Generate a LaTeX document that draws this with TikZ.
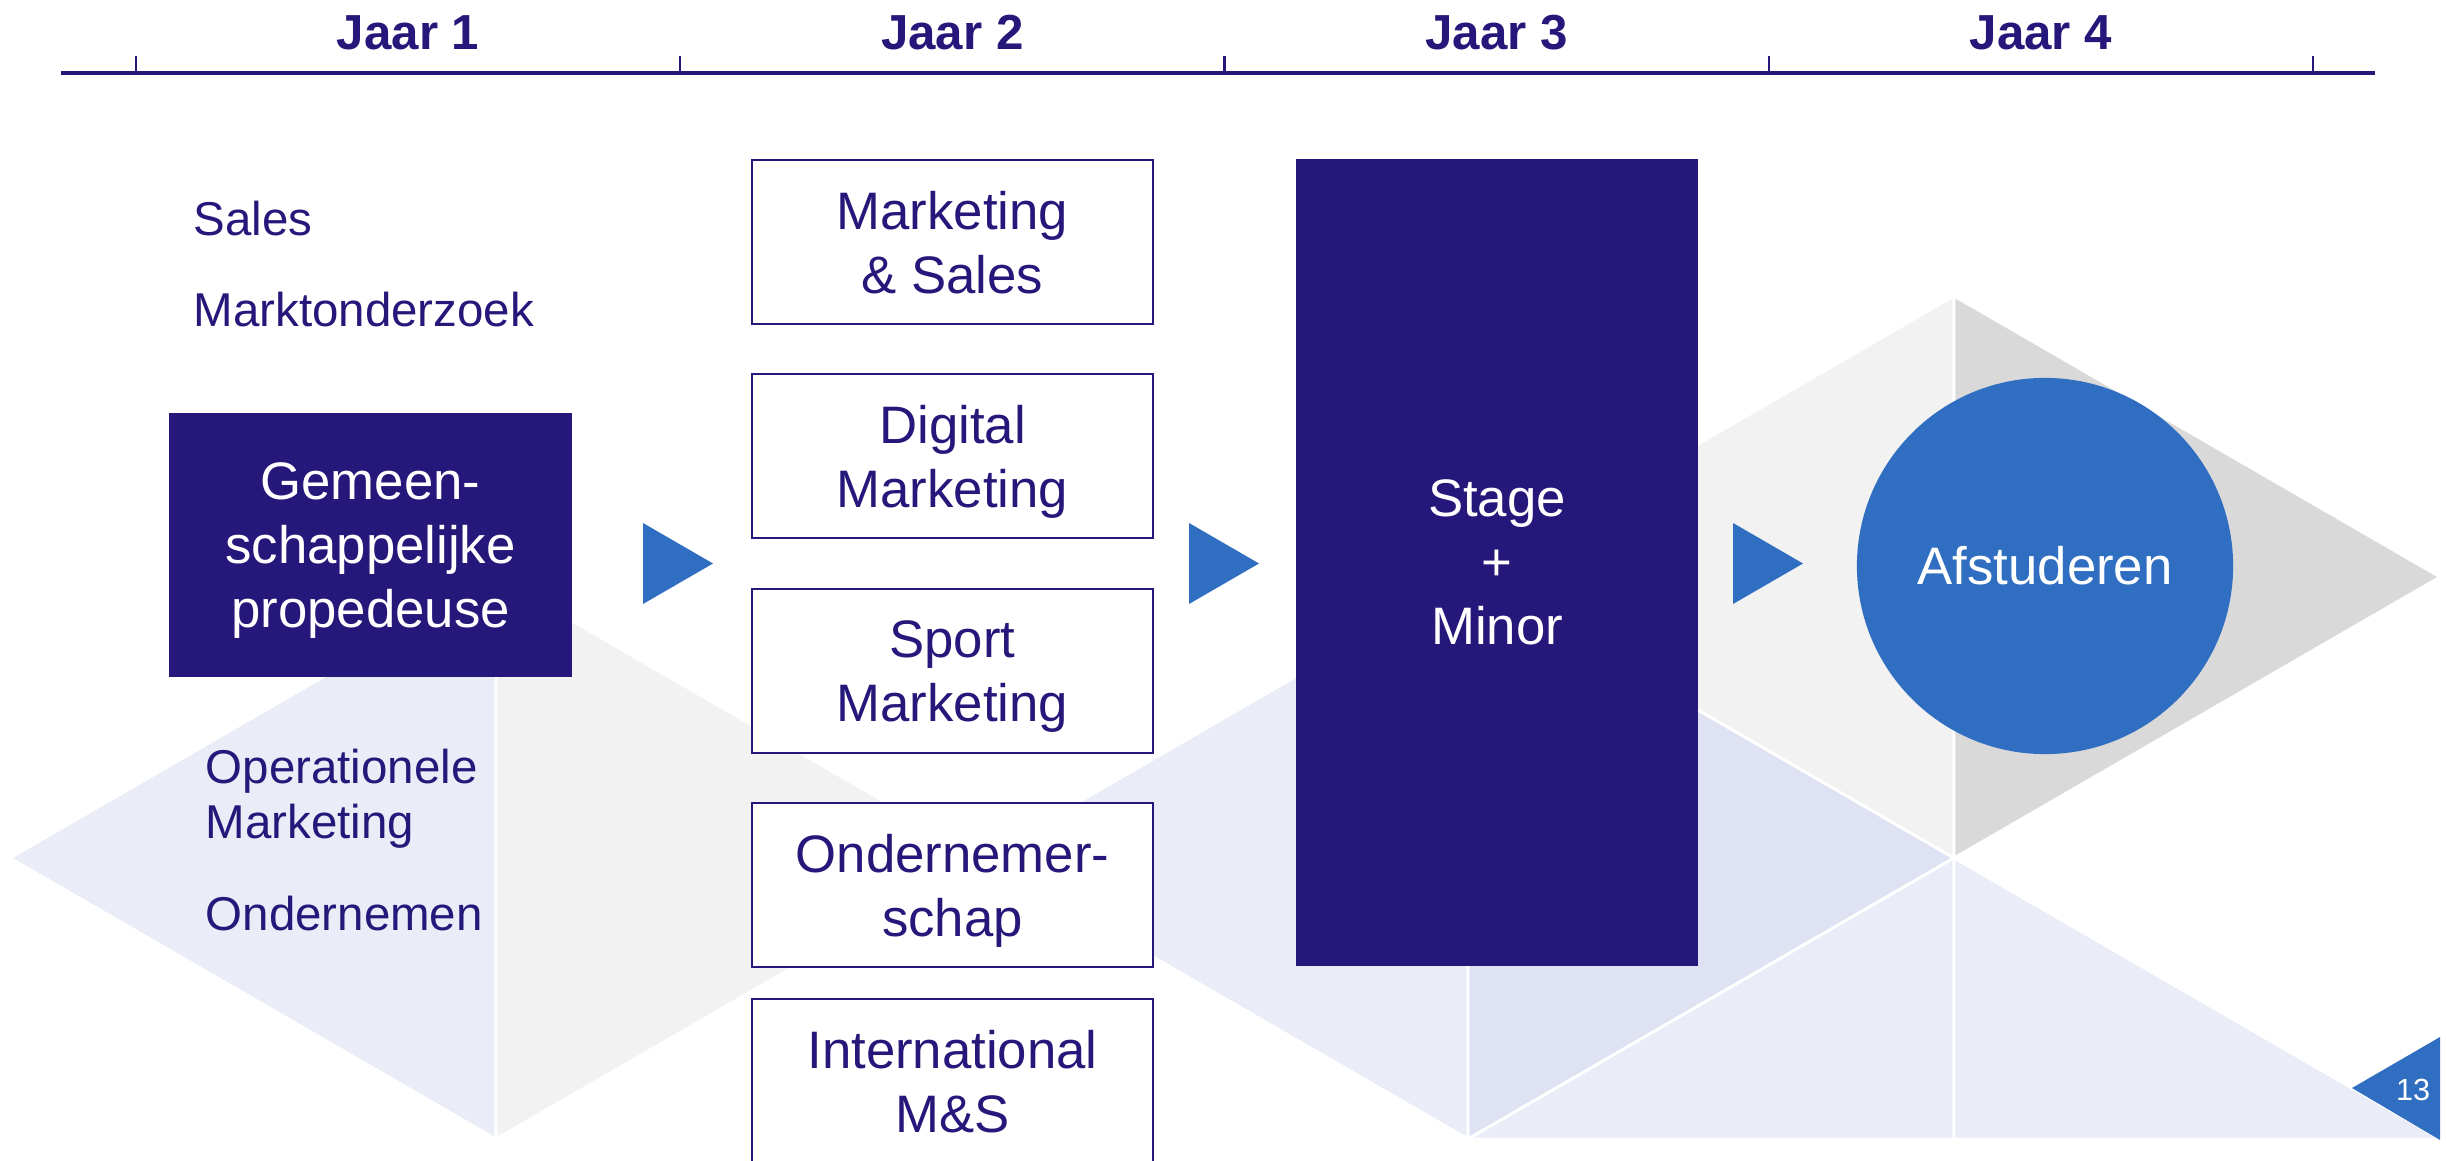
\documentclass[tikz,border=0pt]{standalone}
\usepackage{fontspec}
\setmainfont{Liberation Sans}
\usepackage{tikz}
\usetikzlibrary{shapes.geometric}
\definecolor{navy}{RGB}{37,24,122}
\definecolor{hblauw}{RGB}{48,110,193}
\definecolor{lichtgrijs}{RGB}{242,242,242}
\definecolor{grijs}{RGB}{217,217,217}
\definecolor{lavendel}{RGB}{234,236,247}
\definecolor{lavendeldonker}{RGB}{223,226,242}

\begin{document}
\begin{tikzpicture}[x=0.01cm, y=-0.01cm,
        vlak/.style={draw=white, line width=0.8pt},
        jaar/.style={anchor=base, inner sep=0pt, text=navy, font=\bfseries\fontsize{14}{17}\selectfont},
        los/.style={anchor=base west, inner sep=0pt, text=navy, font=\fontsize{13.5}{15.6}\selectfont},
        vak/.style={draw=navy, line width=0.7pt, fill=white, minimum width=4.01cm, minimum height=1.64cm,
            inner sep=0pt, text depth=0pt, align=center, text=navy, font=\fontsize{15}{18.2}\selectfont},
        blok/.style={fill=navy, inner sep=0pt, text depth=0pt, align=center, text=white, font=\fontsize{15}{18.2}\selectfont}
    ]
    \useasboundingbox (0,0) rectangle (2446,1161);
    \clip (0,0) rectangle (2446,1161);

    \filldraw[vlak, fill=lavendel] (10,858) -- (496,577) -- (496,1139) -- cycle;
    \filldraw[vlak, fill=lichtgrijs] (496,577) -- (982,858) -- (496,1139) -- cycle;
    \filldraw[vlak, fill=lavendel] (982,858) -- (1468,577) -- (1468,1139) -- cycle;
    \filldraw[vlak, fill=lavendeldonker] (1468,577) -- (1954,858) -- (1468,1139) -- cycle;
    \filldraw[vlak, fill=lichtgrijs] (1468,577) -- (1954,296) -- (1954,858) -- cycle;
    \filldraw[vlak, fill=grijs] (1954,296) -- (2440,577) -- (1954,858) -- cycle;
    \filldraw[vlak, fill=lavendel] (1468,1139) -- (1954,858) -- (1954,1139) -- cycle;
    \filldraw[vlak, fill=lavendel] (1954,858) -- (2440,1139) -- (1954,1139) -- cycle;

    \draw[navy, line width=1pt] (61,73) -- (2375,73);
    \foreach \x in {0,...,4}
        \draw[navy, line width=0.6pt] ({136+544.25*\x},73) -- ++(0,-17);
    \foreach \i in {1,...,4}
        \node[jaar] (jaar\i) at ({136+544.25*(\i-0.5)},50) {Jaar \i};

    \node[los] (sales) at (193,236) {Sales};
    \node[los] (markt) at (193,327) {Marktonderzoek};
    \node[los] (opera) at (205,783) {Operationele};
    \node[los] (opmark) at (205,838) {Marketing};
    \node[los] (onder) at (205,930) {Ondernemen};

    \node[blok, minimum width=4.03cm, minimum height=2.64cm] (prop) at (370.5,545) {Gemeen-\\schappelijke\\propedeuse};

    \node[vak] (ms) at (952.5,242) {Marketing\\\& Sales};
    \node[vak] (dm) at (952.5,456) {Digital\\Marketing};
    \node[vak] (sm) at (952.5,671) {Sport\\Marketing};
    \node[vak] (os) at (952.5,885) {Ondernemer-\\schap};
    \node[vak] (ims) at (952.5,1081) {International\\M\&S};

    \node[blok, minimum width=4.02cm, minimum height=8.07cm] (stage) at (1497,562.5) {Stage\\+\\Minor};

    \node[circle, fill=hblauw, minimum size=3.76cm, inner sep=0pt, text=white,
        font=\fontsize{15}{18.2}\selectfont] (afst) at (2045,566) {Afstuderen};

    \foreach \x in {643,1189,1733}
        \fill[hblauw] (\x,523) -- ++(70,40.5) -- ++(-70,40.5) -- cycle;

    \fill[hblauw] (2440,1037) -- (2352,1088) -- (2440,1140) -- cycle;
    \node[text=white, inner sep=0pt, font=\fontsize{8.7}{10}\selectfont] (pagina) at (2413,1090) {13};
\end{tikzpicture}
\end{document}
